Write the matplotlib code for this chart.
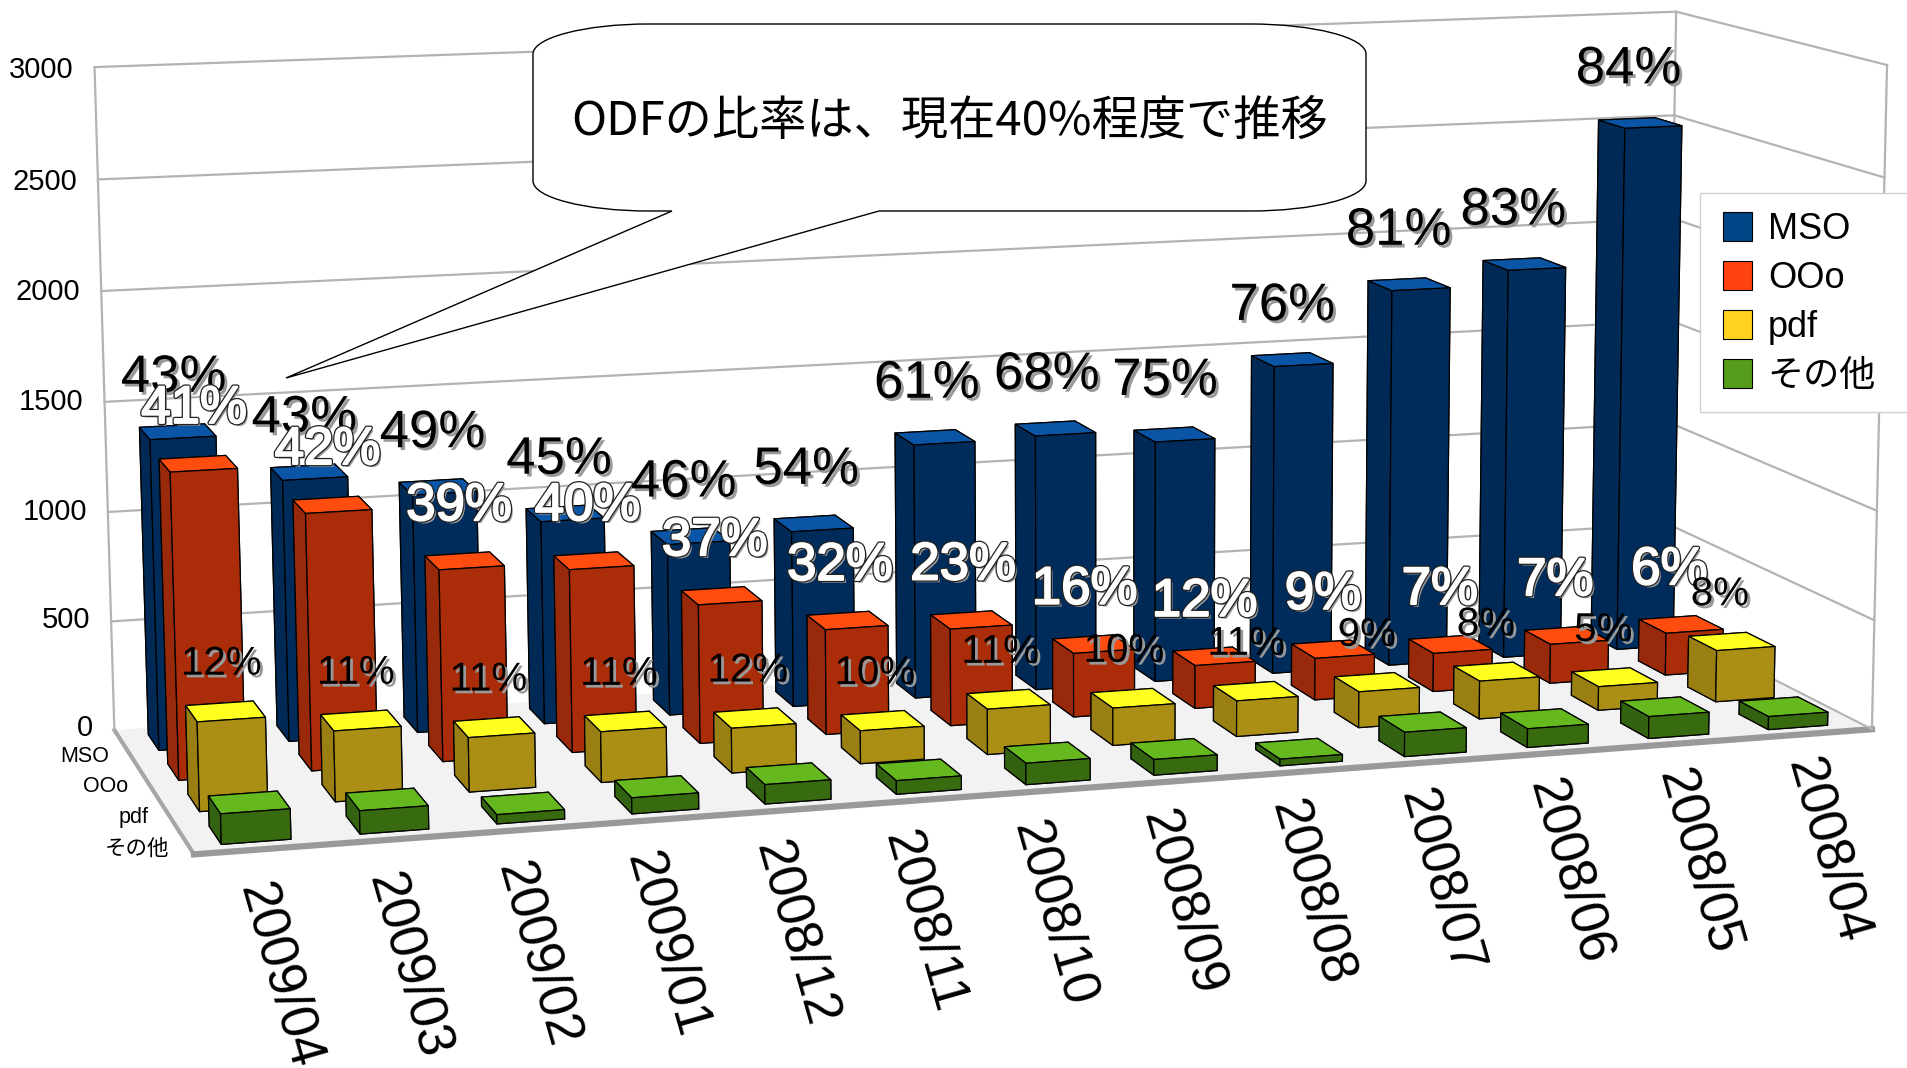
import numpy as np
import matplotlib
matplotlib.use("Agg")
import matplotlib.pyplot as plt
import matplotlib.patheffects as pe
from matplotlib.patches import Patch, PathPatch, Rectangle
from matplotlib.path import Path

months = ["2009/04", "2009/03", "2009/02", "2009/01", "2008/12", "2008/11", "2008/10",
          "2008/09", "2008/08", "2008/07", "2008/06", "2008/05", "2008/04"]
series_names = ["MSO", "OOo", "pdf", "その他"]

mso = [1400, 1185, 1085, 930, 790, 815, 1185, 1195, 1135, 1460, 1790, 1860, 2510]
ooo = [1360, 1145, 860, 825, 630, 480, 445, 295, 200, 195, 180, 185, 200]
pdf = [390, 310, 240, 225, 200, 148, 205, 170, 163, 165, 175, 110, 240]
other = [130, 100, 40, 70, 85, 60, 95, 70, 30, 110, 85, 100, 60]

mso_pct = [43, 43, 49, 45, 46, 54, 61, 68, 75, 76, 81, 83, 84]
ooo_pct = [41, 42, 39, 40, 37, 32, 23, 16, 12, 9, 7, 7, 6]
pdf_pct = [12, 11, 11, 11, 12, 10, 11, 10, 11, 9, 8, 5, 8]

z_ticks = [0, 500, 1000, 1500, 2000, 2500, 3000]

# top, front, side, legend
colors = [("#0a55a5", "#002c5c", "#002a55", "#004586"),
          ("#ff4d10", "#aa2c08", "#98290a", "#ff420e"),
          ("#ffff20", "#ab8f15", "#9a8012", "#ffd320"),
          ("#66b81f", "#386b10", "#336210", "#579d1c")]

W, H = 1907, 1068
NX, NY, ZMAX = 13, 4, 3000

# camera fitted from the corners of the box in the picture (x, y, z) -> pixel
corners = [((0, 0, 0), (114, 725)), ((0, 0, ZMAX), (95, 68)),
           ((NX, 0, 0), (1669, 630)), ((NX, 0, ZMAX), (1673, 10)),
           ((0, NY, 0), (194, 859)), ((NX, NY, 0), (1869, 724)),
           ((NX, NY, ZMAX), (1890, 66))]


def fit_camera(points):
    rows = []
    for (x, y, z), (u, v) in points:
        p = [x / NX, y / NY, z / ZMAX, 1]
        v = H - v
        rows.append(p + [0, 0, 0, 0] + [-u * c for c in p])
        rows.append([0, 0, 0, 0] + p + [-v * c for c in p])
    cam = np.linalg.svd(np.array(rows, dtype=float))[2][-1].reshape(3, 4)
    cam = cam @ np.diag([1 / NX, 1 / NY, 1 / ZMAX, 1])
    if cam[2, 3] < 0:
        cam = -cam
    return cam


camera = fit_camera(corners)


def px(x, y, z):
    u, v, w = camera @ [x, y, z, 1]
    return u / w, H - v / w


fig = plt.figure(figsize=(W / 100, H / 100), dpi=100)
ax = fig.add_axes([0, 0, 1, 1], projection="3d")
ax.set_axis_off()
ax.patch.set_visible(False)
ax.computed_zorder = False
ax.apply_aspect = lambda position=None: None


def get_proj():
    to_view = ax.transData.inverted().get_matrix()
    m = to_view @ camera
    return np.array([m[0], m[1], [0, 0, 0, -1], m[2]])


ax.get_proj = get_proj

# floor
floor_x = np.array([[0, NX], [0, NX]])
floor_y = np.array([[0, 0], [NY, NY]])
ax.plot_surface(floor_x, floor_y, np.zeros((2, 2)), color="#f2f2f2", shade=False, zorder=1)
ax.plot([0, 0], [0, NY], [0, 0], color="#a6a6a6", lw=3, zorder=2)
ax.plot([0, NX], [NY, NY], [0, 0], color="#999999", lw=4.5, zorder=2)
ax.plot([NX, NX], [0, NY], [0, 0], color="#b3b3b3", lw=1.5, zorder=2)

# walls
grid = dict(color="#b3b3b3", lw=1.6, zorder=2)
for v in z_ticks[1:]:
    ax.plot([0, NX, NX], [0, 0, NY], [v, v, v], **grid)
ax.plot([0, 0], [0, 0], [0, ZMAX], **grid)
ax.plot([NX, NX], [0, 0], [0, ZMAX], **grid)
ax.plot([NX, NX], [NY, NY], [0, ZMAX], **grid)

# bars, back row first and right to left inside a row
bar_w, bar_d = 0.5, 0.55
for j, values in enumerate([mso, ooo, pdf, other]):
    top, front, side = colors[j][:3]
    for i in range(NX - 1, -1, -1):
        ax.bar3d(i + 0.23, j + (1 - bar_d) / 2, 0, bar_w, bar_d, values[i],
                 color=[front, top, front, front, side, side], edgecolor="black",
                 linewidth=0.9, shade=False, zorder=10 + j * 20 + (NX - i))

# everything written goes on a flat layer in picture pixels
ov = fig.add_axes([0, 0, 1, 1], zorder=5)
ov.set_xlim(0, W)
ov.set_ylim(H, 0)
ov.axis("off")

for v in z_ticks:
    u, y = px(0, 0, v)
    ov.text(u - 21, y - 2 + v / 600, str(v), ha="right", va="center", fontsize=21,
            family="Liberation Sans")
for j, name in enumerate(series_names):
    u, y = px(0, j + 0.5, 0)
    ov.text(u - 14, y + 12, name, ha="right", va="center", fontsize=15.5,
            family=["Liberation Sans", "Noto Sans CJK JP"])
# the month labels sit evenly spaced in the picture, not along the perspective
for i, m in enumerate(months):
    ov.text(253 + 129 * i, 884 - 10.4 * i, m, rotation=-74, rotation_mode="anchor",
            ha="left", va="center", fontsize=38, family="Liberation Sans")

shadow = pe.SimplePatchShadow(offset=(2, -2), shadow_rgbFace="#999999", alpha=1)
outline = [shadow, pe.withStroke(linewidth=3.2, foreground="#222222"),
           pe.withStroke(linewidth=1.4, foreground="white")]
for i in range(NX):
    shift = 0.45 - 0.006 * i
    u, y = px(i + shift, 0.5, mso[i])
    ov.text(u, y - 29, f"{mso_pct[i]}%", ha="center", va="bottom", fontsize=38,
            family="Liberation Sans", path_effects=[shadow, pe.Normal()])
    u, y = px(i + shift, 1.5, ooo[i])
    ov.text(u, y - 30, f"{ooo_pct[i]}%", ha="center", va="bottom", fontsize=38,
            family="Liberation Sans", color="white", path_effects=outline)
    u, y = px(i + shift, 2.5, pdf[i])
    ov.text(u, y - 29, f"{pdf_pct[i]}%", ha="center", va="bottom", fontsize=29,
            family="Liberation Sans", path_effects=[shadow, pe.Normal()])

# callout
left, right, upper, lower = 533, 1366, 24, 211
rx, ry = 116, 30
k = 0.55
verts = [(left + rx, upper), (right - rx, upper),
         (right - rx + k * rx, upper), (right, upper + ry - k * ry), (right, upper + ry),
         (right, lower - ry),
         (right, lower - ry + k * ry), (right - rx + k * rx, lower), (right - rx, lower),
         (879, lower), (286, 378), (672, lower), (left + rx, lower),
         (left + rx - k * rx, lower), (left, lower - ry + k * ry), (left, lower - ry),
         (left, upper + ry),
         (left, upper + ry - k * ry), (left + rx - k * rx, upper), (left + rx, upper),
         (left + rx, upper)]
codes = [Path.MOVETO, Path.LINETO,
         Path.CURVE4, Path.CURVE4, Path.CURVE4,
         Path.LINETO,
         Path.CURVE4, Path.CURVE4, Path.CURVE4,
         Path.LINETO, Path.LINETO, Path.LINETO, Path.LINETO,
         Path.CURVE4, Path.CURVE4, Path.CURVE4,
         Path.LINETO,
         Path.CURVE4, Path.CURVE4, Path.CURVE4,
         Path.CLOSEPOLY]
ov.add_patch(PathPatch(Path(verts, codes), facecolor="white", edgecolor="black", lw=1, zorder=6))
ov.text(950, 122, "ODFの比率は、現在40%程度で推移", ha="center", va="center", fontsize=34,
        family=["Noto Sans CJK JP", "Liberation Sans"], zorder=7)

# legend
ov.add_patch(Rectangle((1700, 193), 220, 219, facecolor="white", edgecolor="#d0d0d0", lw=1, zorder=6))
handles = [Patch(facecolor=c[3], edgecolor="black", lw=0.8) for c in colors]
leg = ov.legend(handles, series_names, loc="upper left", bbox_to_anchor=(1723 / W, 1 - 212 / H),
                bbox_transform=fig.transFigure, frameon=False, handlelength=0.8, handleheight=0.84,
                labelspacing=0.39, handletextpad=0.44, borderpad=0, borderaxespad=0,
                prop={"family": ["Liberation Sans", "Noto Sans CJK JP"], "size": 26})
leg.set_zorder(7)

fig.savefig("out.png", dpi=100)
